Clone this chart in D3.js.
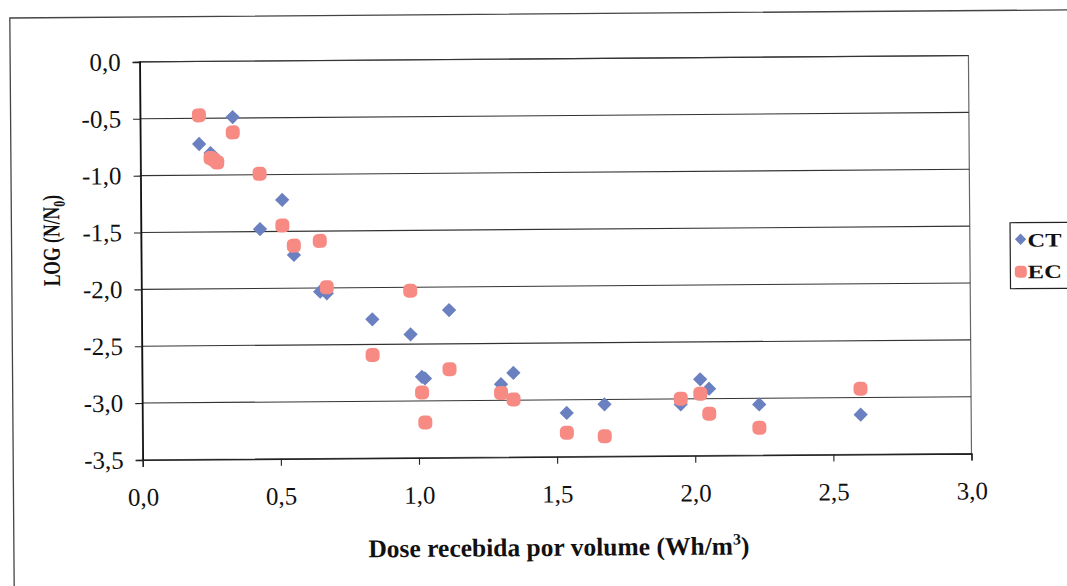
<!DOCTYPE html>
<html>
<head>
<meta charset="utf-8">
<script src="https://cdn.jsdelivr.net/npm/d3@7"></script>
<style>
  html, body { margin: 0; padding: 0; background: #fff; }
  svg { display: block; }
  text { font-family: "Liberation Serif", "Times New Roman", serif; fill: #111; }
</style>
</head>
<body>
<svg id="chart" width="1067" height="586"></svg>
<script>
// Dose received per volume (Wh/m3) and log reduction for each treatment
const dose = [0.213, 0.254, 0.266, 0.278, 0.335, 0.431, 0.512, 0.553, 0.647, 0.671, 0.835, 0.973,
              1.013, 1.024, 1.113, 1.299, 1.344, 1.536, 1.673, 1.949, 2.020, 2.052, 2.233, 2.600];
const ctValues = [-0.726, -0.806, -0.85, -0.87, -0.491, -1.479, -1.223, -1.708, -2.033, -2.047, -2.279, -2.414,
                  -2.788, -2.803, -2.203, -2.859, -2.760, -3.116, -3.042, -3.048, -2.829, -2.912, -3.054, -3.150];
const ecValues = [-0.474, -0.850, -0.865, -0.889, -0.626, -0.992, -1.449, -1.626, -1.586, -1.995, -2.594, -2.031,
                  -2.926, -3.190, -2.723, -2.935, -2.994, -3.289, -3.324, -2.998, -2.955, -3.132, -3.259, -2.923];
const seriesNames = ["CT", "EC"];
const xTicks = [0, 0.5, 1.0, 1.5, 2.0, 2.5, 3.0];
const yTicks = [0, -0.5, -1.0, -1.5, -2.0, -2.5, -3.0, -3.5];

const colors = { CT: "#6a80c1", EC: "#f78b84" };

const svg = d3.select("#chart");
// whole figure sits slightly turned
const root = svg.append("g").attr("transform", "rotate(-0.44, 533, 300)");

// outer frame
root.append("rect")
  .attr("x", 12).attr("y", 14).attr("width", 1090).attr("height", 600)
  .attr("fill", "none").attr("stroke", "#444").attr("stroke-width", 1.3);

const plot = { left: 141.5, right: 970.3, top: 58.9, bottom: 456.9 };
const x = d3.scaleLinear().domain([0, 3]).range([plot.left, plot.right]);
const y = d3.scaleLinear().domain([-3.5, 0]).range([plot.bottom, plot.top]);

const fmt = d => d3.format(".1f")(d).replace(".", ",").replace("−", "-");

// plot area border
root.append("rect")
  .attr("x", plot.left).attr("y", plot.top)
  .attr("width", plot.right - plot.left).attr("height", plot.bottom - plot.top)
  .attr("fill", "none").attr("stroke", "#666").attr("stroke-width", 1.2);

// horizontal gridlines
root.append("g").selectAll("line")
  .data(yTicks.filter(t => t > -3.5))
  .join("line")
  .attr("x1", plot.left).attr("x2", plot.right)
  .attr("y1", d => y(d)).attr("y2", d => y(d))
  .attr("stroke", "#333").attr("stroke-width", 1.1);

// y axis
const yAxis = root.append("g")
  .attr("transform", `translate(${plot.left},0)`)
  .call(d3.axisLeft(y).tickValues(yTicks).tickFormat(fmt).tickSize(7).tickPadding(12));
yAxis.select(".domain").attr("stroke", "#111").attr("stroke-width", 1.6);
yAxis.selectAll(".tick line").attr("stroke", "#222").attr("stroke-width", 1.1);
yAxis.selectAll(".tick text")
  .style("font-family", "'Liberation Serif', serif").style("font-size", "25px").attr("fill", "#111");

// x axis
const xAxis = root.append("g")
  .attr("transform", `translate(0,${plot.bottom})`)
  .call(d3.axisBottom(x).tickValues(xTicks).tickFormat(fmt).tickSize(7).tickPadding(21));
xAxis.select(".domain").attr("stroke", "#222").attr("stroke-width", 1.4);
xAxis.selectAll(".tick line").attr("stroke", "#222").attr("stroke-width", 1.1);
xAxis.selectAll(".tick text")
  .style("font-family", "'Liberation Serif', serif").style("font-size", "25px").attr("fill", "#111");

// markers: CT diamonds first, EC rounded dots drawn on top
const ctData = dose.map((d, i) => ({ x: d, y: ctValues[i] }));
const ecData = dose.map((d, i) => ({ x: d, y: ecValues[i] }));

root.append("g").selectAll("path")
  .data(ctData)
  .join("path")
  .attr("d", d3.symbol().type(d3.symbolSquare).size(102))
  .attr("transform", d => `translate(${x(d.x)},${y(d.y)}) rotate(45)`)
  .attr("fill", colors.CT);

const ecSize = 14;
root.append("g").selectAll("rect")
  .data(ecData)
  .join("rect")
  .attr("x", d => x(d.x) - ecSize / 2).attr("y", d => y(d.y) - ecSize / 2)
  .attr("width", ecSize).attr("height", ecSize).attr("rx", 5)
  .attr("fill", colors.EC);

// axis titles
root.append("text")
  .attr("x", 557).attr("y", 556)
  .attr("text-anchor", "middle")
  .style("font-size", "25.5px").style("font-weight", "bold")
  .call(t => {
    t.append("tspan").text("Dose recebida por volume (Wh/m");
    t.append("tspan").attr("dy", -10).style("font-size", "16px").text("3");
    t.append("tspan").attr("dy", 10).text(")");
  });

// y title: narrow, tall glyphs
root.append("g")
  .attr("transform", "translate(60,237) rotate(-90) scale(0.8,1.1)")
  .append("text")
  .attr("text-anchor", "middle")
  .style("font-size", "22px").style("font-weight", "bold")
  .call(t => {
    t.append("tspan").text("LOG (N/N");
    t.append("tspan").attr("dy", 5).style("font-size", "15px").text("0");
    t.append("tspan").attr("dy", -5).text(")");
  });

// legend
const legend = root.append("g");
legend.append("rect")
  .attr("x", 1010.6).attr("y", 226.4).attr("width", 60).attr("height", 66)
  .attr("fill", "#fff").attr("stroke", "#222").attr("stroke-width", 1.2);
const legendRows = [
  { name: seriesNames[0], cy: 243, baseline: 250.5 },
  { name: seriesNames[1], cy: 275.4, baseline: 282 }
];
legendRows.forEach(r => {
  if (r.name === "CT") {
    legend.append("path")
      .attr("d", d3.symbol().type(d3.symbolSquare).size(64))
      .attr("transform", `translate(1021,${r.cy}) rotate(45)`)
      .attr("fill", colors.CT);
  } else {
    legend.append("rect")
      .attr("x", 1021 - 6).attr("y", r.cy - 6).attr("width", 12).attr("height", 12).attr("rx", 4)
      .attr("fill", colors.EC);
  }
  legend.append("text")
    .attr("x", 1028).attr("y", r.baseline)
    .attr("textLength", 34).attr("lengthAdjust", "spacingAndGlyphs")
    .style("font-size", "19px").style("font-weight", "bold")
    .text(r.name);
});
</script>
</body>
</html>
